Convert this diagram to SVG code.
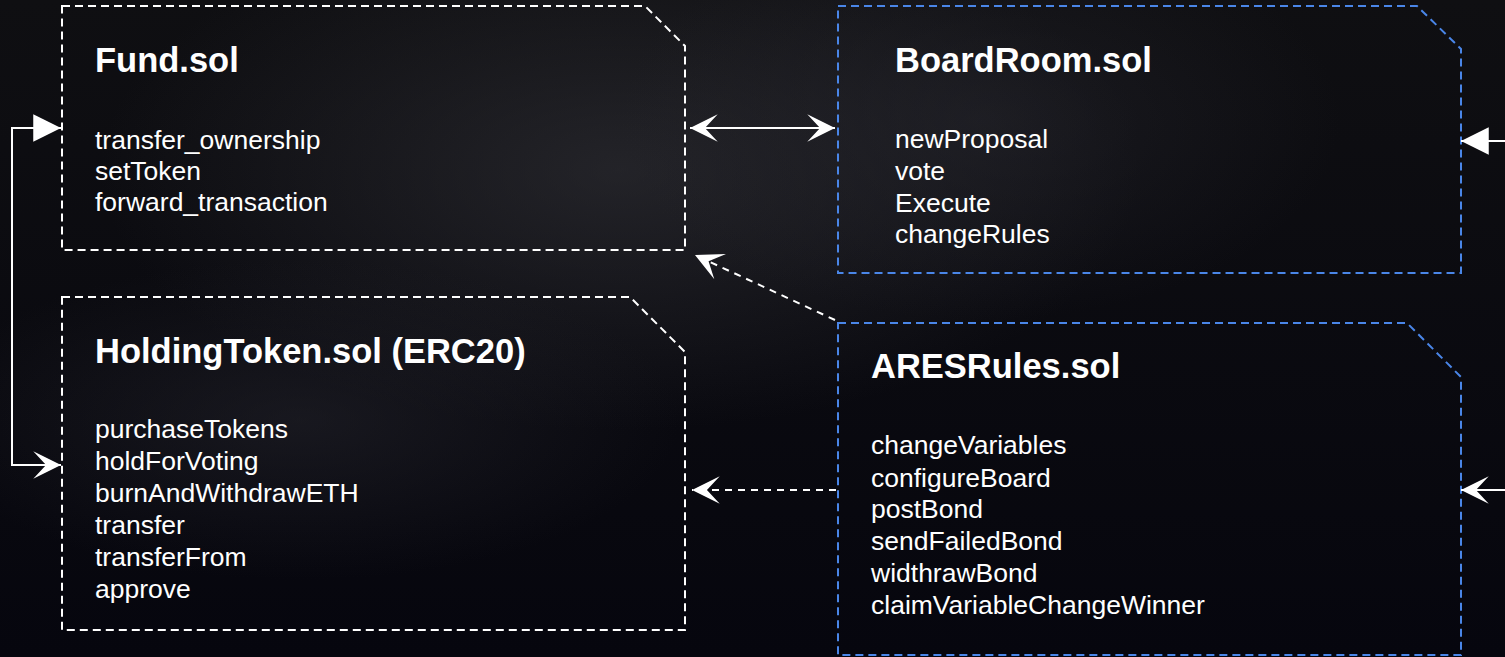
<svg xmlns="http://www.w3.org/2000/svg" width="1505" height="657" viewBox="0 0 1505 657">
  <defs>
    <radialGradient id="haze1" cx="0.5" cy="0.5" r="0.5">
      <stop offset="0" stop-color="#3a3a40" stop-opacity="0.5"/>
      <stop offset="1" stop-color="#3a3a40" stop-opacity="0"/>
    </radialGradient>
    <radialGradient id="haze2" cx="0.5" cy="0.5" r="0.5">
      <stop offset="0" stop-color="#2a2a32" stop-opacity="0.45"/>
      <stop offset="1" stop-color="#2a2a32" stop-opacity="0"/>
    </radialGradient>
    <linearGradient id="bg" x1="0" y1="0" x2="0" y2="1">
      <stop offset="0" stop-color="#0f0f12"/>
      <stop offset="1" stop-color="#06060e"/>
    </linearGradient>
    <marker id="stealth" markerUnits="userSpaceOnUse" markerWidth="32" markerHeight="32" viewBox="-28 -15 30 30" refX="0" refY="0" orient="auto-start-reverse">
      <path d="M0,0 L-26,-13 L-14,0 L-26,13 Z" fill="#ffffff"/>
    </marker>
    <marker id="tri" markerUnits="userSpaceOnUse" markerWidth="32" markerHeight="32" viewBox="-28 -15 30 30" refX="0" refY="0" orient="auto">
      <path d="M0,0 L-26,-13 L-26,13 Z" fill="#ffffff"/>
    </marker>
  </defs>
  <style>
    .box { fill: none; stroke-width: 2; stroke-dasharray: 8 5; }
    .white { stroke: #ffffff; }
    .blue { stroke: #4a86e8; }
    .title { font-family: "Liberation Sans", Arial, sans-serif; font-weight: bold; font-size: 34.5px; fill: #ffffff; }
    .item { font-family: "Liberation Sans", Arial, sans-serif; font-size: 26.5px; fill: #ffffff; }
    .conn { fill: none; stroke: #ffffff; stroke-width: 2; }
    .dash { stroke-dasharray: 7 6; }
  </style>

  <rect x="0" y="0" width="1505" height="657" fill="url(#bg)"/>
  <ellipse cx="620" cy="170" rx="520" ry="260" fill="url(#haze1)"/>
  <ellipse cx="980" cy="120" rx="360" ry="200" fill="url(#haze2)"/>
  <ellipse cx="300" cy="420" rx="380" ry="160" fill="url(#haze2)"/>

  <g id="fund">
    <path class="box white" d="M62,6 H645 L685,46 V250 H62 Z"/>
    <text class="title" x="95" y="72">Fund.sol</text>
    <text class="item" x="95" y="149">transfer_ownership</text>
    <text class="item" x="95" y="180">setToken</text>
    <text class="item" x="95" y="211">forward_transaction</text>
  </g>

  <g id="boardroom">
    <path class="box blue" d="M838,6 H1417 L1461,49 V273 H838 Z"/>
    <text class="title" x="895" y="72">BoardRoom.sol</text>
    <text class="item" x="895" y="148">newProposal</text>
    <text class="item" x="895" y="180">vote</text>
    <text class="item" x="895" y="212">Execute</text>
    <text class="item" x="895" y="243">changeRules</text>
  </g>

  <g id="holdingtoken">
    <path class="box white" d="M62,297 H630 L685,352 V630 H62 Z"/>
    <text class="title" x="95" y="363">HoldingToken.sol (ERC20)</text>
    <text class="item" x="95" y="438">purchaseTokens</text>
    <text class="item" x="95" y="470">holdForVoting</text>
    <text class="item" x="95" y="502">burnAndWithdrawETH</text>
    <text class="item" x="95" y="534">transfer</text>
    <text class="item" x="95" y="566">transferFrom</text>
    <text class="item" x="95" y="598">approve</text>
  </g>

  <g id="aresrules">
    <path class="box blue" d="M838,323 H1407 L1461,377 V655 H838 Z"/>
    <text class="title" x="871" y="378">ARESRules.sol</text>
    <text class="item" x="871" y="454">changeVariables</text>
    <text class="item" x="871" y="487">configureBoard</text>
    <text class="item" x="871" y="518">postBond</text>
    <text class="item" x="871" y="550">sendFailedBond</text>
    <text class="item" x="871" y="582">widthrawBond</text>
    <text class="item" x="871" y="614">claimVariableChangeWinner</text>
  </g>

  <g id="connectors">
    <path class="conn" d="M690,128 H835" marker-start="url(#stealth)" marker-end="url(#stealth)"/>
    <path class="conn" d="M61,465 H12 V128 H61" marker-end="url(#tri)"/>
    <path class="conn" d="M12,465 H61" marker-end="url(#stealth)"/>
    <path class="conn" d="M1505,141 H1461" marker-end="url(#tri)"/>
    <path class="conn" d="M1505,490 H1461" marker-end="url(#stealth)"/>
    <path class="conn dash" d="M835,320 L695,255" marker-end="url(#stealth)"/>
    <path class="conn dash" d="M836,490 H692" marker-end="url(#stealth)"/>
  </g>
</svg>
